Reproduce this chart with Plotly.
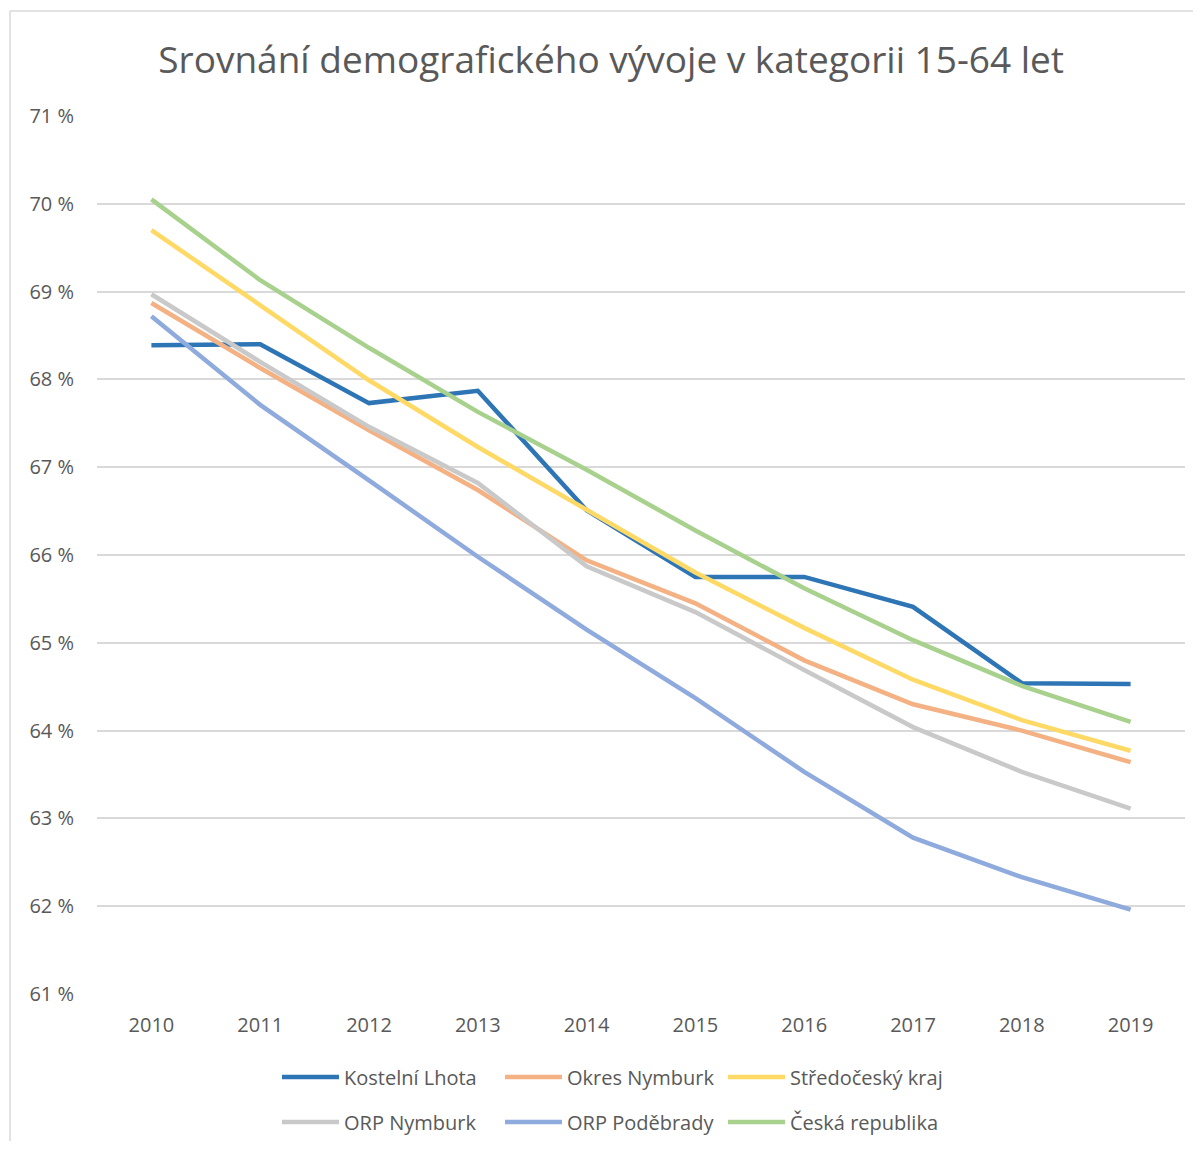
import plotly.graph_objects as go

years = ["2010", "2011", "2012", "2013", "2014", "2015", "2016", "2017", "2018", "2019"]
kostelni_lhota = [68.39, 68.40, 67.73, 67.87, 66.51, 65.75, 65.75, 65.41, 64.54, 64.53]
okres_nymburk = [68.87, 68.13, 67.42, 66.74, 65.94, 65.45, 64.80, 64.30, 64.00, 63.64]
stredocesky_kraj = [69.70, 68.85, 67.99, 67.23, 66.51, 65.80, 65.17, 64.58, 64.12, 63.77]
orp_nymburk = [68.97, 68.20, 67.46, 66.82, 65.87, 65.35, 64.69, 64.04, 63.53, 63.11]
orp_podebrady = [68.72, 67.71, 66.85, 65.98, 65.15, 64.37, 63.53, 62.78, 62.33, 61.96]
ceska_republika = [70.05, 69.13, 68.36, 67.63, 66.97, 66.28, 65.62, 65.03, 64.51, 64.10]
y_ticks = [61, 62, 63, 64, 65, 66, 67, 68, 69, 70, 71]
y_ticktext = [f"{v} %" for v in y_ticks]

series = [
    ("Kostelní Lhota", kostelni_lhota, "#2E75B6", "legend"),
    ("Okres Nymburk", okres_nymburk, "#F4B183", "legend"),
    ("Středočeský kraj", stredocesky_kraj, "#FFD966", "legend"),
    ("ORP Nymburk", orp_nymburk, "#C9C9C9", "legend2"),
    ("ORP Poděbrady", orp_podebrady, "#8FAADC", "legend2"),
    ("Česká republika", ceska_republika, "#A9D18E", "legend2"),
]

W, H = 1185, 1133
ML, MR, MT, MB = 89, 8, 108, 147
PW, PH = W - ML - MR, H - MT - MB

xs = list(range(len(years)))
fig = go.Figure()
for name, vals, color, lg in series:
    fig.add_trace(go.Scatter(
        x=xs, y=vals, name=name, mode="lines", legend=lg,
        line=dict(color=color, width=4.5, shape="linear"),
    ))

font_family = "Open Sans, Noto Sans, DejaVu Sans, sans-serif"
legend_common = dict(
    orientation="h", xanchor="left", yanchor="middle",
    font=dict(family=font_family, size=20, color="#595959"),
    entrywidth=151, entrywidthmode="pixels", itemwidth=57,
    bgcolor="rgba(0,0,0,0)",
)
lx = (269 - ML) / PW
fig.update_layout(
    width=W, height=H,
    margin=dict(l=ML, r=MR, t=MT, b=MB, autoexpand=False),
    paper_bgcolor="white", plot_bgcolor="white",
    title=dict(
        text="Srovnání demografického vývoje v kategorii 15-64 let",
        x=0.509, xanchor="center", y=1 - 52 / H, yanchor="middle",
        font=dict(family=font_family, size=37, color="#595959"),
    ),
    xaxis=dict(
        tickmode="array", tickvals=xs, ticktext=years,
        range=[-0.5, 9.5], showgrid=False, zeroline=False,
        showline=False, ticks="", ticklabelstandoff=17,
        tickfont=dict(family=font_family, size=20, color="#595959"),
    ),
    yaxis=dict(
        tickmode="array", tickvals=y_ticks, ticktext=y_ticktext,
        range=[61, 71], showgrid=True, gridcolor="#D9D9D9", gridwidth=1.5,
        zeroline=False, showline=False, ticks="",
        ticklabelstandoff=22,
        tickfont=dict(family=font_family, size=20, color="#595959"),
    ),
    legend=dict(x=lx, y=(986 - 1069) / PH, **legend_common),
    legend2=dict(x=lx, y=(986 - 1114) / PH, **legend_common),
    showlegend=True,
)

# chart-area border (only top and left edges visible in the reference)
bx0 = (2 - ML) / PW
bx1 = (W - ML) / PW
by_top = (986 - 3) / PH
by_bot = (986 - H) / PH
fig.add_shape(type="line", xref="paper", yref="paper",
              x0=bx0, x1=bx1, y0=by_top, y1=by_top,
              line=dict(color="#D9D9D9", width=1.5), layer="below")
fig.add_shape(type="line", xref="paper", yref="paper",
              x0=bx0, x1=bx0, y0=by_top, y1=by_bot,
              line=dict(color="#D9D9D9", width=1.5), layer="below")

fig.write_html("out.html")
